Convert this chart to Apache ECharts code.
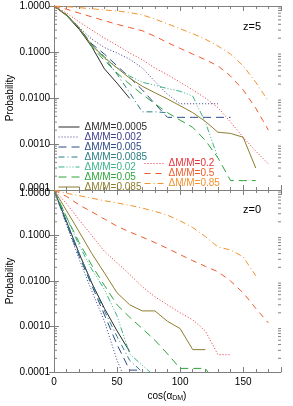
<!DOCTYPE html>
<html><head><meta charset="utf-8">
<script src="https://cdn.jsdelivr.net/npm/echarts@6/dist/echarts.min.js"></script>
<style>html,body{margin:0;padding:0;background:#fff}#c{width:293px;height:406px}</style>
</head><body><div id="c"></div>
<script>
// ---- data ----
const angles = [0,10,20,30,40,50,60,70,80,90,100,110,120,130,140,150,160,170];
const names = ['ΔM/M=0.0005','ΔM/M=0.002','ΔM/M=0.005','ΔM/M=0.0085','ΔM/M=0.02','ΔM/M=0.05','ΔM/M=0.085','ΔM/M=0.2','ΔM/M=0.5','ΔM/M=0.85'];
const xTickLabels = ['0','50','100','150'];
const yTickLabels = ['1.0000','0.1000','0.0100','0.0010','0.0001'];

// z = 5 panel
const z5_0005 = [1,0.62,0.31,0.13,0.043,0.021,0.0098];
const z5_002  = [1,0.64,0.34,0.19,0.125,0.095,0.07,0.045,0.023,0.012,0.0075,0.0075,0.0075,0.0075];
const z5_005  = [1,0.64,0.33,0.15,0.09,0.05,0.028,0.015,0.0075,0.0038,0.0038,0.0038,0.0038,0.0038,0.0038];
const z5_0085 = [1,0.64,0.33,0.14,0.075,0.033,0.013,0.005,0.005,0.0048];
const z5_02   = [1,0.64,0.33,0.14,0.08,0.045,0.03,0.022,0.019,0.016,0.014,0.011,0.003,0.0005];
const z5_05   = [1,0.64,0.33,0.13,0.065,0.035,0.02,0.012,0.0075,0.0048,0.0033,0.0023,0.0012,0.0005,0.00016,0.00016,0.00016];
const z5_085  = [1,0.64,0.33,0.14,0.075,0.045,0.027,0.018,0.013,0.0095,0.0068,0.0048,0.0031,0.0018,0.0017,0.0014,0.0003];
const z5_2    = [1,0.7,0.45,0.3,0.2,0.14,0.095,0.068,0.045,0.032,0.022,0.015,0.01,0.0062,0.003,0.0014,0.0007,0.00037];
const z5_5    = [1,0.85,0.7,0.58,0.48,0.4,0.34,0.29,0.22,0.16,0.12,0.09,0.068,0.05,0.03,0.015,0.006,0.002];
const z5_85   = [1,0.97,0.92,0.87,0.82,0.78,0.72,0.64,0.52,0.41,0.32,0.25,0.19,0.135,0.09,0.05,0.022,0.0085];

// z = 0 panel
const z0_0005 = [1,0.2,0.04,0.009,0.0025,0.0008,0.00028];
const z0_002  = [1,0.17,0.03,0.006,0.0013,0.00018,0.00004];
const z0_005  = [1,0.18,0.035,0.008,0.0018,0.0004,0.00011,0.00011];
const z0_0085 = [1,0.2,0.04,0.009,0.0022,0.0006,0.00018,0.0001];
const z0_02   = [1,0.25,0.06,0.018,0.0065,0.0017,0.00025,0.00014,0.00008];
const z0_05   = [1,0.25,0.07,0.022,0.008,0.003,0.0016,0.0009,0.0005,0.00025,0.00012,0.00012,0.00012,0.00005];
const z0_085  = [1,0.35,0.12,0.04,0.015,0.0055,0.003,0.0022,0.0022,0.0013,0.0009,0.00031,0.00031];
const z0_2    = [1,0.5,0.22,0.1,0.045,0.025,0.014,0.0075,0.0045,0.003,0.002,0.0014,0.0008,0.00024,0.00024];
const z0_5    = [1,0.72,0.47,0.33,0.23,0.16,0.12,0.092,0.07,0.052,0.038,0.028,0.021,0.016,0.01,0.0055,0.0025,0.0012];
const z0_85   = [1,0.85,0.75,0.66,0.58,0.52,0.46,0.4,0.34,0.28,0.21,0.15,0.095,0.056,0.048,0.034,0.013];

const top5 = [z5_0005,z5_002,z5_005,z5_0085,z5_02,z5_05,z5_085,z5_2,z5_5,z5_85];
const bot0 = [z0_0005,z0_002,z0_005,z0_0085,z0_02,z0_05,z0_085,z0_2,z0_5,z0_85];

// ---- style ----
const colors = ['#2b2b2b','#3d3d8f','#2c4a87','#2a7d84','#3bb38a','#2ea43a','#8c7d2c','#e8303a','#f05a2a','#f2922e'];
const dashes = ['solid',[1,2],[8,5],[6,3,1,3],[6,2,1,2,1,2,1,2],[8,5],'solid',[1,2],[6,5],[6,3,1,3]];
const FONT = 'Liberation Sans, Arial, sans-serif';
const AX = '#808080';
const XMIN = 0, XMAX = 180, YMIN = 0.0001, YMAX = 1;

const minorVals = [];
[-4,-3,-2,-1].forEach(e => { for (let k = 2; k <= 9; k++) minorVals.push(+(k * Math.pow(10, e)).toPrecision(3)); });

function xAx(grid, pos, interval, len, labels, line) {
  return {type:'value', gridIndex:grid, position:pos, min:XMIN, max:XMAX, interval:interval,
    axisLine:{show:line, lineStyle:{color:AX, width:1}},
    axisTick:{show:true, inside:true, length:len, lineStyle:{color:AX, width:1}},
    splitLine:{show:false},
    axisLabel:{show:labels, margin:5, color:'#000', fontSize:10, fontFamily:FONT,
      formatter: v => xTickLabels.indexOf(String(v)) >= 0 ? String(v) : ''}};
}
function yAx(grid, pos, labels) {
  return {type:'log', logBase:10, gridIndex:grid, position:pos, min:YMIN, max:YMAX,
    axisLine:{show:true, lineStyle:{color:AX, width:1}},
    axisTick:{show:true, inside:true, length:5, lineStyle:{color:AX, width:1}},
    splitLine:{show:false},
    axisLabel:{show:labels, margin:4, color:'#000', fontSize:10, fontFamily:FONT, showMinLabel:true, showMaxLabel:true,
      formatter: v => {
        const s = v.toFixed(4);
        if (yTickLabels.indexOf(s) < 0) return '';
        if (grid === 0 && s === '0.0001') return '{up|' + s + '}';
        if (grid === 1 && s === '1.0000') return '{dn|' + s + '}';
        return s;
      },
      rich:{up:{fontSize:10, fontFamily:FONT, color:'#000', padding:[0,0,3,0]},
            dn:{fontSize:10, fontFamily:FONT, color:'#000', padding:[7,0,0,0]}}}};
}
function minorSeries(xi, yi) {
  return {type:'custom', xAxisIndex:xi, yAxisIndex:yi, silent:true, z:5,
    data: minorVals.map(v => [XMIN, v]),
    renderItem: (params, api) => {
      const v = api.value(1);
      const l = api.coord([XMIN, v]), r = api.coord([XMAX, v]);
      return {type:'group', children:[
        {type:'line', shape:{x1:l[0], y1:l[1], x2:l[0]+3, y2:l[1]}, style:{stroke:AX, lineWidth:1}},
        {type:'line', shape:{x1:r[0]-3, y1:r[1], x2:r[0], y2:r[1]}, style:{stroke:AX, lineWidth:1}}
      ]};
    }};
}

const series = [];
function addPanel(sets, xi, yi) {
  sets.forEach((arr, i) => {
    series.push({type:'line', name:names[i], xAxisIndex:xi, yAxisIndex:yi, symbol:'none', showSymbol:false,
      data: arr.map((p, j) => [angles[j], p]),
      lineStyle:{color:colors[i], width:1, type:dashes[i]}, itemStyle:{color:colors[i]}, z:3});
  });
  series.push(minorSeries(xi, yi));
}
addPanel(top5, 0, 0);
addPanel(bot0, 4, 2);

const leftIdx = [0,1,2,3,4,5,6], rightIdx = [7,8,9];
function legend(idx, left, top, w) {
  return {orient:'vertical', left:left, top:top, itemWidth:w, itemHeight:9, itemGap:0, padding:0,
    selectedMode:false,
    itemStyle:{opacity:0, borderWidth:0},
    lineStyle:{width:1},
    textStyle:{fontSize:10, lineHeight:9, fontFamily:FONT},
    data: idx.map(i => ({name:names[i], textStyle:{color:colors[i]}}))};
}

const option = {
  animation:false,
  backgroundColor:'#fff',
  grid:[{left:54, top:6, width:227, height:184}, {left:54, top:190, width:227, height:182}],
  xAxis:[
    xAx(0,'bottom',50,5,false,true), xAx(0,'bottom',10,3,false,false),
    xAx(0,'top',50,5,false,true), xAx(0,'top',10,3,false,false),
    xAx(1,'bottom',50,5,true,true), xAx(1,'bottom',10,3,false,false),
    xAx(1,'top',50,5,false,true), xAx(1,'top',10,3,false,false)
  ],
  yAxis:[yAx(0,'left',true), yAx(0,'right',false), yAx(1,'left',true), yAx(1,'right',false)],
  legend:[legend(leftIdx, 58, 122, 21), legend(rightIdx, 144, 158.5, 19)],
  series: series,
  graphic:[
    {type:'text', x:10, y:98, rotation:Math.PI/2, style:{text:'Probability', font:'10px '+FONT, fill:'#000', align:'center', verticalAlign:'middle'}},
    {type:'text', x:10, y:281, rotation:Math.PI/2, style:{text:'Probability', font:'10px '+FONT, fill:'#000', align:'center', verticalAlign:'middle'}},
    {type:'text', x:252, y:27, style:{text:'z=5', font:'11px '+FONT, fill:'#000', align:'center', verticalAlign:'middle'}},
    {type:'text', x:252, y:210, style:{text:'z=0', font:'11px '+FONT, fill:'#000', align:'center', verticalAlign:'middle'}},
    {type:'text', x:167, y:396, style:{text:'{a|cos(α}{s|DM}{a|)}', align:'center', verticalAlign:'middle', fill:'#000',
      rich:{a:{fontSize:10, fontFamily:FONT, lineHeight:12, verticalAlign:'middle'}, s:{fontSize:7, fontFamily:FONT, lineHeight:12, verticalAlign:'bottom', padding:[5,0,0,0]}}}}
  ]
};
const chart = echarts.init(document.getElementById('c'), null, {renderer:'canvas'});
chart.setOption(option);
</script></body></html>
